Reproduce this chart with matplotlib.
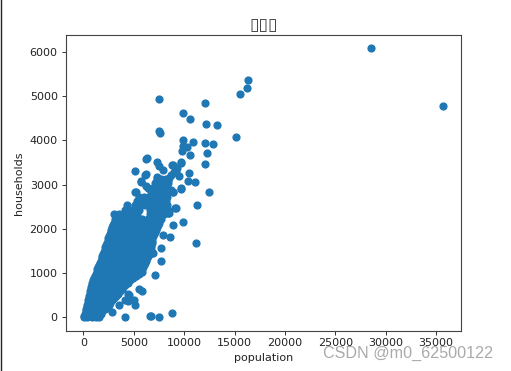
import matplotlib
matplotlib.use("Agg")
import matplotlib.pyplot as plt
from matplotlib.lines import Line2D

# ---------------- Data ---------------- #
# dense part of the cloud, one list of population values per households level
cloud_households = [5, 30, 130, 230, 330, 430, 530, 630, 730, 830, 930, 1030, 1130, 1230, 1330,
                    1430, 1530, 1630, 1730, 1830, 1930, 2030, 2130, 2230, 2330, 2430, 2530,
                    2630, 2730, 2830, 2930, 3030, 3130]
cloud_population = [
    [30, 400, 800, 1200, 1500],
    [100, 450, 800, 1150, 1450],
    [280, 700, 1150, 1550, 1850],
    [380, 800, 1250, 1700, 2150, 2450],
    [480, 950, 1400, 1850, 2300, 2650],
    [580, 1050, 1500, 1950, 2400, 2900, 3050],
    [680, 1150, 1600, 2100, 2550, 3000, 3400],
    [780, 1250, 1700, 2200, 2650, 3100, 3550, 3800],
    [880, 1350, 1800, 2300, 2750, 3200, 3650, 4100],
    [980, 1450, 1900, 2400, 2850, 3300, 3750, 4200, 4650],
    [1120, 1550, 2050, 2500, 2950, 3400, 3850, 4300, 4750, 5200],
    [1300, 1700, 2150, 2600, 3050, 3500, 3950, 4400, 4850, 5300, 5800],
    [1450, 1900, 2300, 2750, 3200, 3650, 4100, 4550, 5000, 5450, 5900],
    [1620, 2050, 2500, 2950, 3400, 3850, 4300, 4750, 5200, 5650, 6100],
    [1800, 2200, 2650, 3100, 3550, 4000, 4450, 4900, 5350, 5800, 6300],
    [1950, 2400, 2850, 3300, 3750, 4200, 4650, 5100, 5550, 6000, 6600],
    [2100, 2550, 3000, 3450, 3900, 4350, 4800, 5250, 5700, 6150, 6700],
    [2250, 2700, 3150, 3600, 4050, 4500, 4950, 5400, 5850, 6300, 6750],
    [2400, 2850, 3300, 3750, 4200, 4650, 5100, 5550, 6000, 6450, 6800],
    [2550, 3000, 3450, 3900, 4350, 4800, 5250, 5700, 6150, 6600, 6950],
    [2700, 3150, 3600, 4050, 4500, 4950, 5400, 5850, 6300, 6750, 7100],
    [2850, 3300, 3750, 4200, 4650, 5100, 5550, 6000, 6450, 6900, 7300],
    [3050, 3500, 3950, 4400, 4850, 5300, 5750, 6200, 6650, 7100, 7500],
    [3100, 3700, 4200, 4700, 5300, 5800, 6400, 6850, 7300, 7700],
    [3000, 3500, 4050, 4500, 5000, 5350, 6600, 7050, 7500, 8000],
    [4100, 4600, 5000, 5500, 6600, 7000, 7450, 7950, 8400],
    [4350, 5100, 5700, 6150, 6600, 7050, 7500, 8000, 8300],
    [5300, 5800, 6250, 6700, 7150, 7600, 8150],
    [5500, 6000, 6500, 6900, 7350, 7900, 8300],
    [5170, 6700, 7200, 7600, 8200, 8850],
    [6360, 6900, 7300, 7700, 8300, 9640],
    [7150, 7400, 7900, 8400],
    [7300, 7700, 8200],
]

# points along both long edges of the cloud
edge_households = [80, 180, 280, 380, 480, 580, 680, 780, 880, 980, 1080,
                   1180, 1280, 1380, 1480, 1580, 1680, 1780, 1880, 1980, 2080]
left_edge_population = [120, 250, 360, 450, 550, 650, 750, 850, 1000, 1200, 1350,
                        1500, 1700, 1850, 2000, 2150, 2300, 2450, 2600, 2750, 2900]
right_edge_population = [1700, 2150, 2550, 2850, 3200, 3600, 3950, 4400, 4950, 5500, 5850,
                         6000, 6200, 6450, 6650, 6750, 6800, 6850, 7000, 7200, 7400]

# single points around the cloud
outlier_population = [35682, 28566, 16350, 16190, 15520, 7480, 12015, 9900, 10525, 12180,
                      13270, 7480, 7610, 15090, 9900, 10890, 12015, 12875, 10290, 9900,
                      9800, 12250, 10525, 6255, 7250, 9700, 12015, 8770, 7480, 7910,
                      5130, 6155, 10460, 9300, 8970, 8640, 9470, 5690, 8400, 10360,
                      11055, 7315, 7315, 6255, 8000, 5160, 8700, 9730, 12445, 11290,
                      9900, 8840, 8410, 9135, 11155, 7880, 8570, 7680, 6885, 7745,
                      7150, 5495, 5825, 4535, 5065, 4435, 5165, 3480, 2880, 4170,
                      6555, 6720, 7510, 8770, 9050, 8450, 8850, 9150, 8850, 9640,
                      8450, 5670, 6160, 6260, 4170, 4470]
outlier_households = [4769, 6082, 5364, 5190, 5060, 4930, 4856, 4620, 4490, 4370,
                      4350, 4205, 4175, 4075, 4010, 3955, 3940, 3925, 3840, 3865,
                      3750, 3710, 3665, 3590, 3515, 3500, 3475, 3445, 3410, 3325,
                      3300, 3225, 3265, 3370, 3295, 3220, 3205, 3070, 3105, 3085,
                      3060, 3180, 3030, 2970, 2955, 2840, 2880, 2900, 2825, 2530,
                      2160, 2083, 2350, 2460, 1680, 1855, 1810, 1575, 1440, 1270,
                      945, 645, 600, 490, 395, 365, 265, 265, 105, 0,
                      15, 30, 0, 100, 2470, 2350, 2830, 3285, 3445, 3490,
                      3145, 3060, 3240, 3600, 380, 515]

title_text = "\u25af\u25af\u25af"   # the reference shows three empty boxes
x_label = "population"
y_label = "households"
watermark = "CSDN @m0_62500122"

# ---------------- Points ---------------- #
population = outlier_population + left_edge_population + right_edge_population
households = outlier_households + edge_households + edge_households
for hh, row in zip(cloud_households, cloud_population):
    for pop in row:
        population.append(pop)
        households.append(hh)

# ---------------- Drawing ---------------- #
W, H = 511, 371
fig = plt.figure(figsize=(W / 100, H / 100), dpi=100)
ax = fig.add_axes([65.5 / W, 1 - 330.5 / H, 395.5 / W, 295.5 / H])

ax.scatter(population, households, s=24, color="#1f77b4")
ax.set_xlim(-1781, 37466)
ax.set_ylim(-303, 6386)
ax.set_xticks(range(0, 35001, 5000))
ax.set_yticks(range(0, 6001, 1000))
ax.tick_params(labelsize=8, length=2.8, width=0.64, pad=2.8, colors="#222222")
for spine in ax.spines.values():
    spine.set_linewidth(0.8)
    spine.set_color("#444444")

ax.set_title(title_text, fontsize=12.5, color="#444444", pad=3.5, family="DejaVu Sans")
ax.set_xlabel(x_label, fontsize=8, labelpad=3.2, color="#222222")
ax.set_ylabel(y_label, fontsize=8, labelpad=4.2, color="#222222")

# screenshot edge and watermark
fig.add_artist(Line2D([0.5 / W, 0.5 / W], [0, 1], color="#222222", linewidth=1.0))
fig.text(408.5 / W, 1 - 353.5 / H, watermark, fontsize=11.6, family="Liberation Sans",
         color="#aaaaaa", ha="center", va="center")

fig.savefig("out.png", dpi=100)
